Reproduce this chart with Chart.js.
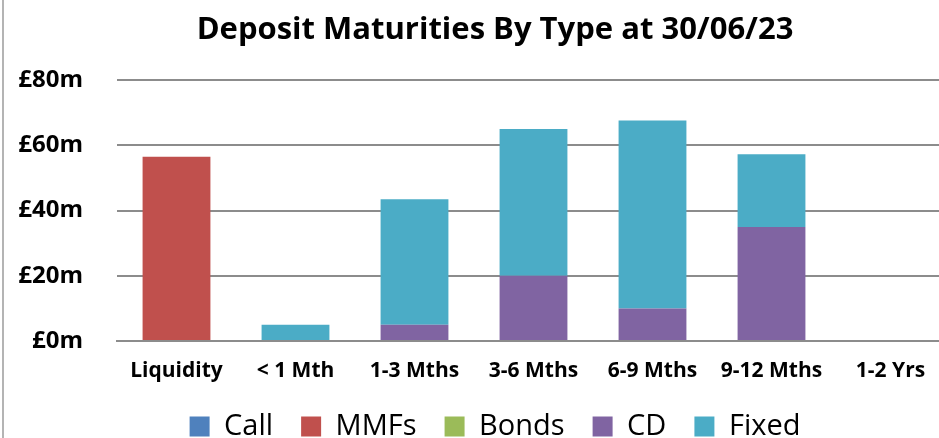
<!DOCTYPE html>
<html>
<head>
<meta charset="utf-8">
<script src="https://cdn.jsdelivr.net/npm/chart.js@4"></script>
<style>
    html, body { margin: 0; padding: 0; background: #fff; overflow: hidden; }
    #frame { position: absolute; left: 2px; top: 0; width: 0; height: 438px; border-left: 2px solid #b4b4b4; z-index: 2; }
    #wrap { position: absolute; left: 0; top: 0; width: 990px; height: 451px; }
</style>
</head>
<body>
<div id="frame"></div>
<div id="wrap"><canvas id="chart"></canvas></div>
<script>
// カテゴリとシリーズ（単位: £m）
const categories = ['Liquidity', '< 1 Mth', '1-3 Mths', '3-6 Mths', '6-9 Mths', '9-12 Mths', '1-2 Yrs'];
const callValues  = [0, 0, 0, 0, 0, 0, 0];
const mmfValues   = [56.5, 0, 0, 0, 0, 0, 0];
const bondValues  = [0, 0, 0, 0, 0, 0, 0];
const cdValues    = [0, 0, 5, 20, 10, 35, 0];
const fixedValues = [0, 5, 38.5, 45, 57.6, 22.3, 0];
const yTicks = [0, 20, 40, 60, 80];

const seriesNames = ['Call', 'MMFs', 'Bonds', 'CD', 'Fixed'];
const seriesColors = ['#4F81BD', '#C0504D', '#9BBB59', '#8064A2', '#4BACC6'];
const seriesData = [callValues, mmfValues, bondValues, cdValues, fixedValues];

const FONT = '"Open Sans", sans-serif';

const datasets = seriesNames.map(function(name, i) {
    return {
        label: name,
        data: seriesData[i],
        backgroundColor: seriesColors[i],
        borderWidth: 0,
        barPercentage: 0.57,
        categoryPercentage: 1.0
    };
});

new Chart(document.getElementById('chart'), {
    type: 'bar',
    data: { labels: categories, datasets: datasets },
    options: {
        responsive: true,
        maintainAspectRatio: false,
        animation: false,
        layout: { padding: 0 },
        plugins: {
            title: {
                display: true,
                text: 'Deposit Maturities By Type at 30/06/23',
                color: '#000',
                font: { family: FONT, size: 31, weight: 'bold' },
                padding: { top: 12, bottom: 31 }
            },
            legend: {
                position: 'bottom',
                labels: {
                    color: '#000',
                    font: { family: FONT, size: 29 },
                    boxWidth: 20,
                    boxHeight: 20,
                    padding: 28
                }
            },
            tooltip: { enabled: false }
        },
        scales: {
            x: {
                stacked: true,
                afterFit: function(scale) { scale.height = 43; },
                grid: { display: false, drawTicks: false },
                border: { display: true, color: '#8c8c8c', width: 2 },
                ticks: {
                    color: '#000',
                    font: { family: FONT, size: 21, weight: 'bold' },
                    padding: 17,
                    maxRotation: 0,
                    autoSkip: false
                }
            },
            y: {
                stacked: true,
                min: 0,
                max: 80,
                afterFit: function(scale) { scale.width = 117; },
                afterBuildTicks: function(scale) {
                    scale.ticks = yTicks.map(function(v) { return { value: v }; });
                },
                grid: { color: '#8c8c8c', lineWidth: 2, drawTicks: false },
                border: { display: false },
                ticks: {
                    color: '#000',
                    font: { family: FONT, size: 24, weight: 'bold' },
                    padding: 34,
                    callback: function(v) { return '£' + v + 'm'; }
                }
            },
            // 右側の余白（元画像は右端で切れている）
            yRight: {
                position: 'right',
                afterFit: function(scale) { scale.width = 40; },
                grid: { display: false, drawTicks: false },
                border: { display: false },
                ticks: { display: false }
            }
        }
    }
});
</script>
</body>
</html>
